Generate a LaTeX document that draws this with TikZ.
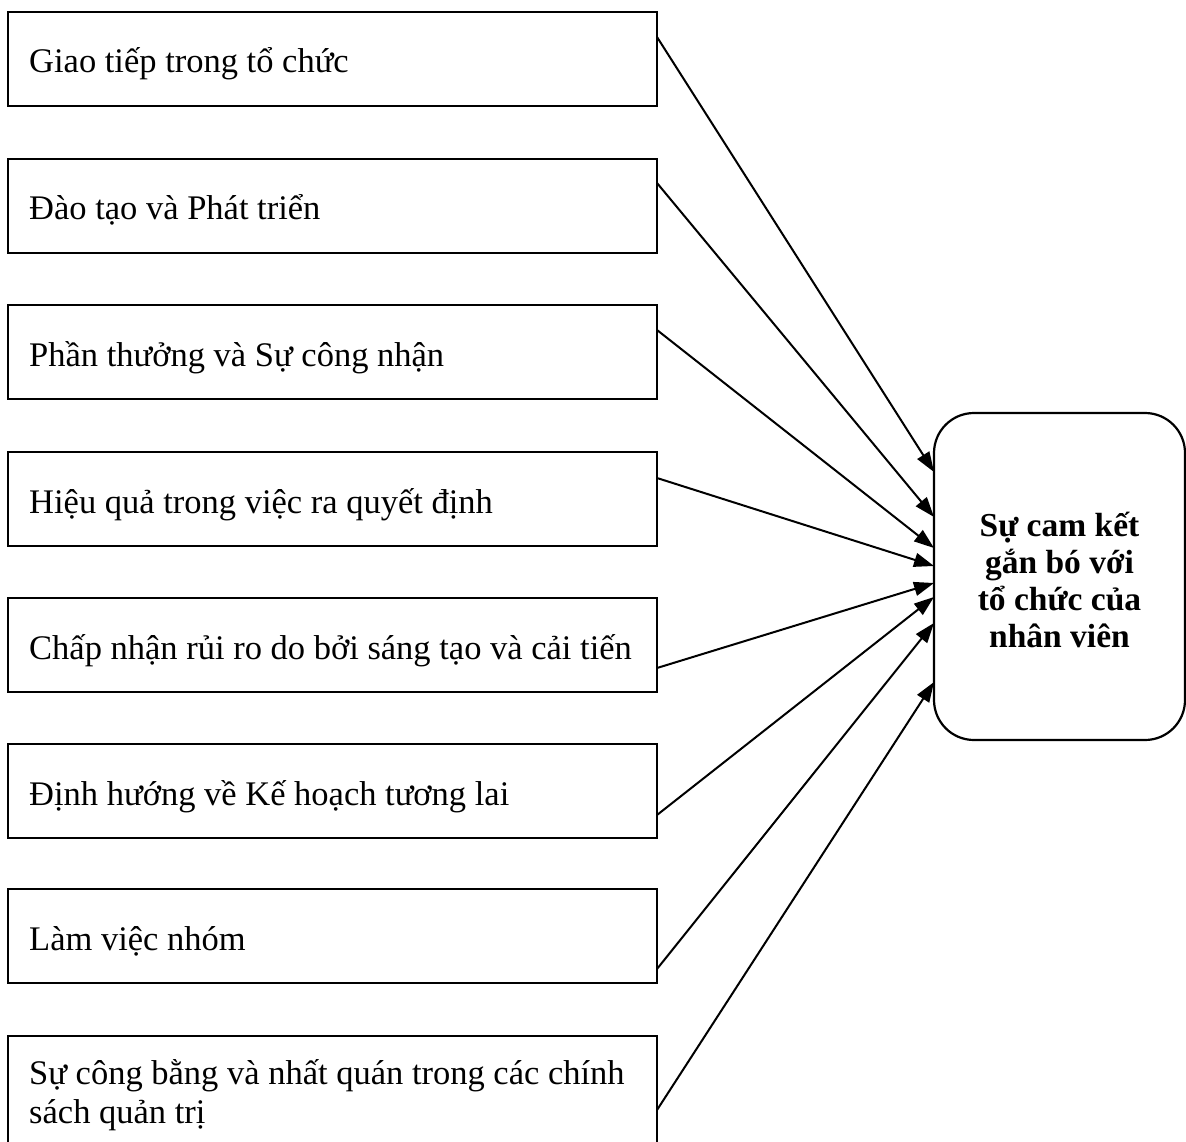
\documentclass[tikz,border=0pt]{standalone}
\usepackage{fontspec}
\setmainfont{Liberation Serif}
\usetikzlibrary{arrows.meta}
\begin{document}
\begin{tikzpicture}[x=1pt,y=-1pt,
  factor/.style={draw, line width=2.2pt, minimum width=649pt, minimum height=94pt,
    anchor=north west, inner sep=0pt, outer sep=0pt},
  ftext/.style={anchor=base west, inner sep=0pt, font=\fontsize{34.5}{39}\selectfont, align=left},
  goalbox/.style={draw, line width=2.2pt, rounded corners=40pt, minimum width=251pt,
    minimum height=327pt, inner sep=0pt, outer sep=0pt},
  goaltext/.style={inner sep=0pt, align=center, font=\bfseries\fontsize{33.5}{37}\selectfont},
  link/.style={line width=2pt, -{Triangle[length=20pt,width=14pt]}}]
\useasboundingbox (0,0) rectangle (1186,1142);
\clip (0,0) rectangle (1186,1142);

% factor boxes
\node[factor] (b1) at (8,12) {};
\node[factor] (b2) at (8,159) {};
\node[factor] (b3) at (8,305) {};
\node[factor] (b4) at (8,452) {};
\node[factor] (b5) at (8,598) {};
\node[factor] (b6) at (8,744) {};
\node[factor] (b7) at (8,889) {};
\node[factor, minimum height=160pt] (b8) at (8,1036) {};

% texts
\node[ftext] (t1) at (29,73) {Giao tiếp trong tổ chức};
\node[ftext] (t2) at (29,220) {Đào tạo và Phát triển};
\node[ftext] (t3) at (29,366) {Phần thưởng và Sự công nhận};
\node[ftext] (t4) at (29,513) {Hiệu quả trong việc ra quyết định};
\node[ftext] (t5) at (29,659) {Chấp nhận rủi ro do bởi sáng tạo và cải tiến};
\node[ftext] (t6) at (29,805) {Định hướng về Kế hoạch tương lai};
\node[ftext] (t7) at (29,950) {Làm việc nhóm};
\node[ftext] (t8) at (29,1123) {Sự công bằng và nhất quán trong các chính\\sách quản trị};

% outcome box
\node[goalbox] (goal) at (1059.5,576.5) {};
\node[goaltext] (gt) at (1059.5,579.5) {Sự cam kết\\gắn bó với\\tổ chức của\\nhân viên};

% connectors
\draw[link] (b1.east |- 0,37)   -- (goal.west |- 0,472);
\draw[link] (b2.east |- 0,183)  -- (goal.west |- 0,517);
\draw[link] (b3.east |- 0,330)  -- (goal.west |- 0,548);
\draw[link] (b4.east |- 0,478)  -- (goal.west |- 0,566);
\draw[link] (b5.east |- 0,668)  -- (goal.west |- 0,583);
\draw[link] (b6.east |- 0,815)  -- (goal.west |- 0,597);
\draw[link] (b7.east |- 0,969)  -- (goal.west |- 0,623);
\draw[link] (b8.east |- 0,1110) -- (goal.west |- 0,682);
\end{tikzpicture}
\end{document}
